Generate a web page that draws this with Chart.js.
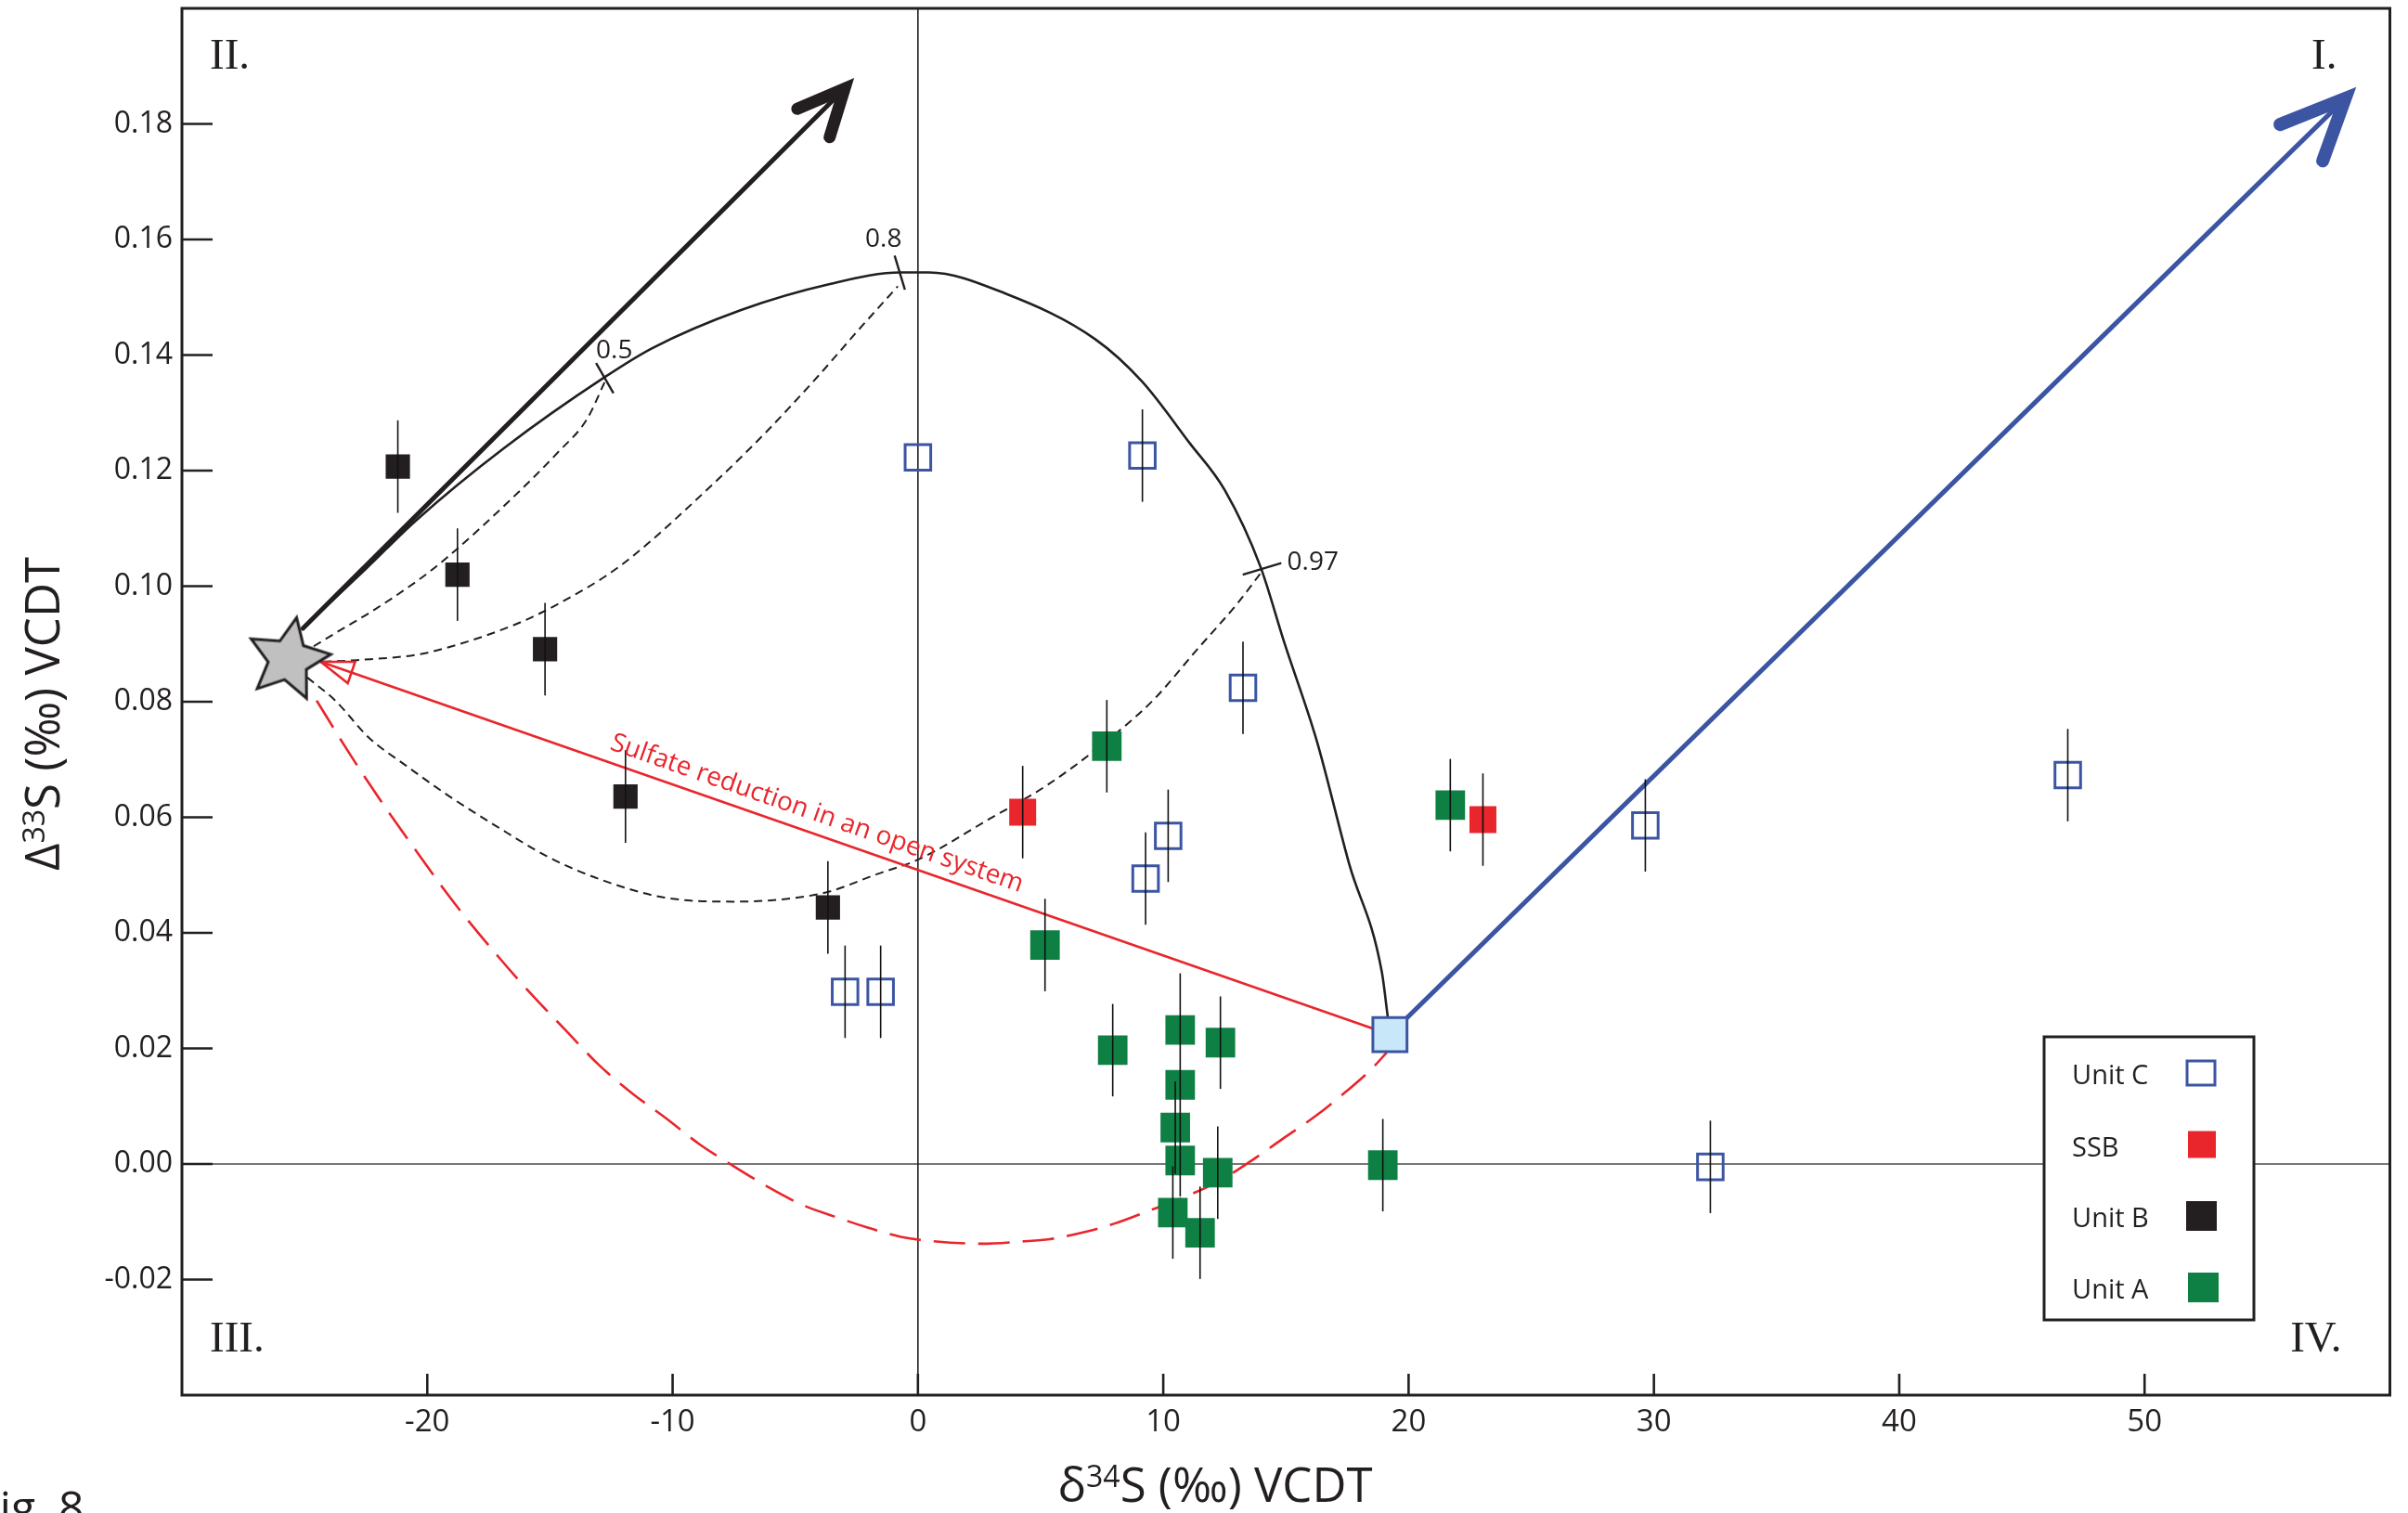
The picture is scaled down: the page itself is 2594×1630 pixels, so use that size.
<!DOCTYPE html>
<html>
<head>
<meta charset="utf-8">
<script src="https://cdn.jsdelivr.net/npm/chart.js@4.4.1/dist/chart.umd.min.js"></script>
<style>
html,body{margin:0;padding:0;background:#ffffff;overflow:hidden;}
canvas{display:block;}
</style>
</head>
<body>
<canvas id="chart" width="2594" height="1630"></canvas>
<script>
// ---------------- tick labels ----------------
const xTickValues = [-20, -10, 0, 10, 20, 30, 40, 50];
const yTickValues = [-0.02, 0.00, 0.02, 0.04, 0.06, 0.08, 0.10, 0.12, 0.14, 0.16, 0.18];

// ---------------- measured samples ----------------
const unitC_x   = [0.0, 9.15, 13.25, 10.2, 9.28, -2.97, -1.52, 29.65, 32.3, 46.87];
const unitC_y   = [0.1223, 0.1226, 0.0824, 0.0568, 0.0494, 0.0298, 0.0298, 0.0586, -0.0005, 0.0673];
const unitC_err = [0.0, 0.008, 0.008, 0.008, 0.008, 0.008, 0.008, 0.008, 0.008, 0.008];

const ssb_x   = [4.27, 23.03];
const ssb_y   = [0.0609, 0.0596];
const ssb_err = [0.008, 0.008];

const unitB_x   = [-21.2, -18.77, -15.2, -11.92, -3.67];
const unitB_y   = [0.1207, 0.1020, 0.0891, 0.0636, 0.0444];
const unitB_err = [0.008, 0.008, 0.008, 0.008, 0.008];

const unitA_x   = [7.7, 5.18, 7.94, 10.69, 12.33, 10.69, 10.49, 10.69, 12.22, 10.39, 11.5, 18.95, 21.7];
const unitA_y   = [0.0723, 0.0379, 0.0197, 0.0232, 0.0210, 0.0137, 0.0063, 0.0006, -0.0015, -0.0084, -0.0119, -0.0002, 0.0621];
const unitA_err = [0.008, 0.008, 0.008, 0.0, 0.008, 0.0193, 0.008, 0.0, 0.008, 0.008, 0.008, 0.008, 0.008];

const start_x = [-25.66];
const start_y = [0.0873];
const end_x = [19.24];
const end_y = [0.0224];

// ---------------- model curves ----------------
const solidCurve_x = [-25.07, -22.5, -20.48, -16.87, -12.76, -10.83, -7.21, -3.59, -0.70, 0.45, 3.59, 7.21, 9.14, 11.07, 12.51, 13.96, 14.93, 16.26, 17.58, 18.91, 19.15];
const solidCurve_y = [0.0927, 0.1030, 0.1113, 0.1239, 0.1362, 0.1412, 0.1478, 0.1523, 0.1543, 0.1543, 0.1506, 0.1428, 0.1354, 0.1248, 0.1166, 0.1034, 0.0903, 0.0732, 0.0519, 0.0332, 0.0255];

const dashA_x = [-24.63, -23.5, -22.24, -20.35, -19.21, -16.62, -14.69, -13.49, -12.76];
const dashA_y = [0.0896, 0.0925, 0.0957, 0.1011, 0.1049, 0.1149, 0.1231, 0.1289, 0.1354];

const dashB_x = [-24.25, -22.87, -20.35, -18.83, -16.57, -15.31, -14.04, -12.78, -11.65, -8.42, -6.25, -4.08, -2.39, -0.82];
const dashB_y = [0.0869, 0.0872, 0.0882, 0.0898, 0.0931, 0.0955, 0.0984, 0.1016, 0.1051, 0.1174, 0.1264, 0.1363, 0.1445, 0.1519];

const dashC_x = [-24.89, -23.75, -22.36, -20.85, -19.09, -17.20, -15.05, -12.85, -10.32, -7.45, -4.92, -3.57, -1.71, 0.02, 2.87, 5.28, 7.69, 9.62, 11.31, 13.0, 13.96];
const dashC_y = [0.0842, 0.0802, 0.0737, 0.0689, 0.0636, 0.0585, 0.0531, 0.0491, 0.0461, 0.0454, 0.0461, 0.0472, 0.0501, 0.0527, 0.0596, 0.0656, 0.0732, 0.0804, 0.0887, 0.0969, 0.1022];

const redDash_x = [-24.51, -23.18, -21.92, -20.54, -19.21, -18.46, -17.11, -15.72, -14.37, -13.02, -11.67, -10.23, -8.93, -7.62, -6.10, -4.75, -3.40, -2.05, -0.70, 0.45, 2.62, 4.24, 5.37, 6.76, 8.02, 9.53, 11.04, 12.30, 13.57, 14.95, 16.21, 17.47, 18.48, 19.11];
const redDash_y = [0.0802, 0.0711, 0.0630, 0.0547, 0.0469, 0.0428, 0.0359, 0.0292, 0.0232, 0.0172, 0.0123, 0.0078, 0.0035, -0.0001, -0.0040, -0.0070, -0.0091, -0.0110, -0.0126, -0.0133, -0.0138, -0.0134, -0.0130, -0.0118, -0.0103, -0.0079, -0.0054, -0.0029, 0.0005, 0.0046, 0.0083, 0.0126, 0.0164, 0.0193];

const redLine_x = [19.24, -24.34];
const redLine_y = [0.0224, 0.0869];
const redHead_x = [-24.34, -22.94, -23.24, -24.34];
const redHead_y = [0.0869, 0.0869, 0.0832, 0.0869];

const blackArrow_x = [-25.07, -2.99];
const blackArrow_y = [0.0927, 0.1861];
const blackHead_x = [-4.92, -2.99, -3.60];
const blackHead_y = [0.1826, 0.1861, 0.1777];

const blueArrow_x = [19.24, 58.18];
const blueArrow_y = [0.0224, 0.1844];
const blueHead_x = [55.52, 58.18, 57.26];
const blueHead_y = [0.1799, 0.1844, 0.1736];

const mark05_x = [-13.12, -12.41];  const mark05_y = [0.1386, 0.1334];
const mark08_x = [-0.95, -0.53];    const mark08_y = [0.1572, 0.1513];
const mark097_x = [13.24, 14.81];   const mark097_y = [0.1020, 0.1040];
const markLabels = ['0.5', '0.8', '0.97'];
const markLabel_x = [-13.12, -2.15, 15.05];
const markLabel_y = [0.1394, 0.1587, 0.1028];

const legendLabels = ['Unit C', 'SSB', 'Unit B', 'Unit A'];
const quadrantLabels = ['I.', 'II.', 'III.', 'IV.'];
const redText = 'Sulfate reduction in an open system';

// ---------------- helpers ----------------
const zip = (xs, ys) => xs.map((v, i) => ({x: v, y: ys[i]}));
const FONT = "'Open Sans', 'Noto Sans', sans-serif";
const INK = '#231f20';
const C_BLUE = '#3b55a3', C_RED = '#e8262c', C_GREEN = '#0f8044', C_BLACK = '#231f20';

function makeStar() {
  const R = 46, r = 22;
  const s = document.createElement('canvas');
  s.width = s.height = 2 * R + 10;
  const c = s.getContext('2d');
  c.translate(s.width / 2, s.height / 2);
  c.rotate(11 * Math.PI / 180);
  c.beginPath();
  for (let i = 0; i < 10; i++) {
    const rad = i % 2 ? r : R;
    const a = -Math.PI / 2 + i * Math.PI / 5;
    c.lineTo(rad * Math.cos(a), rad * Math.sin(a));
  }
  c.closePath();
  c.fillStyle = '#c0c0c0';
  c.fill();
  c.lineWidth = 3;
  c.strokeStyle = INK;
  c.stroke();
  return s;
}

function lineDS(label, xs, ys, color, width, extra) {
  return Object.assign({
    label, data: zip(xs, ys), showLine: true, borderColor: color, borderWidth: width,
    pointRadius: 0, pointHoverRadius: 0, fill: false, tension: 0, order: 10
  }, extra || {});
}

const errorGroups = [
  {xs: unitC_x, ys: unitC_y, es: unitC_err},
  {xs: ssb_x, ys: ssb_y, es: ssb_err},
  {xs: unitB_x, ys: unitB_y, es: unitB_err},
  {xs: unitA_x, ys: unitA_y, es: unitA_err}
];

function drawSupText(ctx, parts, size, supSize, raise) {
  let w = 0;
  parts.forEach(p => { ctx.font = (p.sup ? supSize : size) + 'px ' + FONT; w += ctx.measureText(p.t).width; });
  let x = -w / 2;
  parts.forEach(p => {
    ctx.font = (p.sup ? supSize : size) + 'px ' + FONT;
    ctx.fillText(p.t, x, p.sup ? -raise : 0);
    x += ctx.measureText(p.t).width;
  });
}

const overlay = {
  id: 'overlay',
  beforeDatasetsDraw(chart) {
    const {ctx, chartArea: a, scales: {x, y}} = chart;
    ctx.save();
    ctx.lineWidth = 1.6;
    ctx.strokeStyle = '#4a4a4a';
    const y0 = y.getPixelForValue(0);
    ctx.beginPath(); ctx.moveTo(a.left, y0); ctx.lineTo(a.right, y0); ctx.stroke();
    ctx.strokeStyle = INK;
    const x0 = x.getPixelForValue(0);
    ctx.beginPath(); ctx.moveTo(x0, a.top); ctx.lineTo(x0, a.bottom); ctx.stroke();
    ctx.restore();
  },
  afterDatasetsDraw(chart) {
    const {ctx, chartArea: a, scales: {x, y}} = chart;
    const X = v => x.getPixelForValue(v), Y = v => y.getPixelForValue(v);
    ctx.save();

    // error bars
    ctx.strokeStyle = '#111';
    ctx.lineWidth = 1.6;
    errorGroups.forEach(g => {
      g.xs.forEach((xv, i) => {
        const e = g.es[i];
        if (!e) return;
        ctx.beginPath();
        ctx.moveTo(X(xv), Y(g.ys[i] - e));
        ctx.lineTo(X(xv), Y(g.ys[i] + e));
        ctx.stroke();
      });
    });

    // frame
    ctx.strokeStyle = INK;
    ctx.lineWidth = 3;
    ctx.strokeRect(a.left, a.top, a.right - a.left, a.bottom - a.top);

    // inward tick marks
    ctx.lineWidth = 2.6;
    yTickValues.forEach(v => {
      ctx.beginPath(); ctx.moveTo(a.left, Y(v)); ctx.lineTo(a.left + 33, Y(v)); ctx.stroke();
    });
    xTickValues.forEach(v => {
      ctx.beginPath(); ctx.moveTo(X(v), a.bottom); ctx.lineTo(X(v), a.bottom - 23); ctx.stroke();
    });

    // fraction labels on the closed-system curve
    ctx.fillStyle = INK;
    ctx.font = '28px ' + FONT;
    ctx.textAlign = 'left';
    ctx.textBaseline = 'alphabetic';
    markLabels.forEach((t, i) => ctx.fillText(t, X(markLabel_x[i]), Y(markLabel_y[i])));

    // red annotation along the open-system line
    const p1x = X(redLine_x[0]), p1y = Y(redLine_y[0]);
    const p2x = X(redLine_x[1]), p2y = Y(redLine_y[1]);
    const ang = Math.atan2(p1y - p2y, p1x - p2x);
    ctx.save();
    ctx.translate(X(-12.59), Y(0.0718));
    ctx.rotate(ang);
    ctx.fillStyle = C_RED;
    ctx.font = '28px ' + FONT;
    ctx.textAlign = 'left';
    ctx.fillText(redText, 0, 0);
    ctx.restore();

    // quadrant labels
    ctx.fillStyle = INK;
    ctx.font = "47px 'Liberation Serif', 'DejaVu Serif', serif";
    ctx.textAlign = 'left';
    ctx.fillText(quadrantLabels[1], a.left + 30, a.top + 65);
    ctx.fillText(quadrantLabels[2], a.left + 30, a.bottom - 47);
    ctx.textAlign = 'right';
    ctx.fillText(quadrantLabels[0], a.right - 57, a.top + 65);
    ctx.fillText(quadrantLabels[3], a.right - 52, a.bottom - 47);

    // legend
    const lx = 2202, ly = 1117, lw = 226, lh = 305;
    ctx.fillStyle = '#ffffff';
    ctx.fillRect(lx, ly, lw, lh);
    ctx.strokeStyle = INK;
    ctx.lineWidth = 3;
    ctx.strokeRect(lx, ly, lw, lh);
    const rowsBase = [1168, 1246, 1322, 1399];
    const rowsMid = [1156, 1233, 1310, 1387];
    ctx.font = '29px ' + FONT;
    ctx.textAlign = 'left';
    ctx.fillStyle = INK;
    legendLabels.forEach((t, i) => ctx.fillText(t, 2232, rowsBase[i]));
    ctx.strokeStyle = C_BLUE; ctx.lineWidth = 3;
    ctx.strokeRect(2371 - 15, rowsMid[0] - 13, 30, 26);
    ctx.fillStyle = C_RED;   ctx.fillRect(2372 - 15, rowsMid[1] - 14.5, 30, 29);
    ctx.fillStyle = C_BLACK; ctx.fillRect(2371 - 16, rowsMid[2] - 16, 33, 32);
    ctx.fillStyle = C_GREEN; ctx.fillRect(2373 - 16, rowsMid[3] - 16, 33, 32);

    // axis titles
    ctx.fillStyle = INK;
    ctx.textAlign = 'left';
    ctx.textBaseline = 'alphabetic';
    ctx.save();
    ctx.translate(1309, 1618);
    drawSupText(ctx, [{t: 'δ'}, {t: '34', sup: true}, {t: 'S (‰) VCDT'}], 51, 32, 16);
    ctx.restore();
    ctx.save();
    ctx.translate(64, 769);
    ctx.rotate(-Math.PI / 2);
    drawSupText(ctx, [{t: 'Δ'}, {t: '33', sup: true}, {t: 'S (‰) VCDT'}], 51, 32, 16);
    ctx.restore();

    // figure number (cropped at the page edge)
    ctx.font = '48px ' + FONT;
    ctx.textAlign = 'left';
    ctx.fillText('Fig. 8', -25, 1641);

    ctx.restore();
  }
};

const starImg = makeStar();
const SMOOTH = {cubicInterpolationMode: 'monotone'};

const datasets = [
  {label: 'start', data: zip(start_x, start_y), pointStyle: starImg, pointRadius: 20, order: 0},
  {label: 'end', data: zip(end_x, end_y), pointStyle: 'rect', pointRadius: 26, backgroundColor: '#c8e7f8', borderColor: C_BLUE, borderWidth: 3, order: 0},
  {label: 'Unit C', data: zip(unitC_x, unitC_y), pointStyle: 'rect', pointRadius: 19.5, backgroundColor: 'rgba(255,255,255,0)', borderColor: C_BLUE, borderWidth: 3, order: 1},
  {label: 'SSB', data: zip(ssb_x, ssb_y), pointStyle: 'rect', pointRadius: 20.5, backgroundColor: C_RED, borderWidth: 0, order: 1},
  {label: 'Unit B', data: zip(unitB_x, unitB_y), pointStyle: 'rect', pointRadius: 18.5, backgroundColor: C_BLACK, borderWidth: 0, order: 1},
  {label: 'Unit A', data: zip(unitA_x, unitA_y), pointStyle: 'rect', pointRadius: 22.5, backgroundColor: C_GREEN, borderWidth: 0, order: 1},
  lineDS('black arrow', blackArrow_x, blackArrow_y, INK, 5, {order: 5, borderCapStyle: 'round'}),
  lineDS('black arrow head', blackHead_x, blackHead_y, INK, 13, {order: 5, borderCapStyle: 'round', borderJoinStyle: 'miter'}),
  lineDS('blue arrow', blueArrow_x, blueArrow_y, C_BLUE, 5, {order: 5, borderCapStyle: 'round'}),
  lineDS('blue arrow head', blueHead_x, blueHead_y, C_BLUE, 14, {order: 5, borderCapStyle: 'round', borderJoinStyle: 'miter'}),
  lineDS('open system', redLine_x, redLine_y, C_RED, 2.6, {order: 6}),
  lineDS('open system head', redHead_x, redHead_y, C_RED, 2.6, {order: 6, borderJoinStyle: 'miter'}),
  lineDS('closed system', solidCurve_x, solidCurve_y, INK, 2.6, Object.assign({order: 7}, SMOOTH)),
  lineDS('mixing a', dashA_x, dashA_y, INK, 2, Object.assign({order: 8, borderDash: [9, 6]}, SMOOTH)),
  lineDS('mixing b', dashB_x, dashB_y, INK, 2, Object.assign({order: 8, borderDash: [9, 6]}, SMOOTH)),
  lineDS('mixing c', dashC_x, dashC_y, INK, 2, Object.assign({order: 8, borderDash: [9, 6]}, SMOOTH)),
  lineDS('red dashed', redDash_x, redDash_y, C_RED, 2.6, Object.assign({order: 8, borderDash: [34, 14]}, SMOOTH)),
  lineDS('mark 0.5', mark05_x, mark05_y, INK, 2.4, {order: 7}),
  lineDS('mark 0.8', mark08_x, mark08_y, INK, 2.4, {order: 7}),
  lineDS('mark 0.97', mark097_x, mark097_y, INK, 2.4, {order: 7})
];

new Chart(document.getElementById('chart'), {
  type: 'scatter',
  data: {datasets},
  options: {
    responsive: false,
    devicePixelRatio: 1,
    animation: false,
    events: [],
    layout: {autoPadding: false, padding: {left: 0, top: 9, right: 19.5, bottom: 0}},
    plugins: {legend: {display: false}, tooltip: {enabled: false}},
    scales: {
      x: {
        type: 'linear', min: -30, max: 60,
        grid: {display: false, drawTicks: false},
        border: {display: false},
        afterBuildTicks: s => { s.ticks = xTickValues.map(v => ({value: v})); },
        afterFit: s => { s.height = 127; s.paddingLeft = 0; s.paddingRight = 0; },
        ticks: {
          autoSkip: false, maxRotation: 0, padding: 10, color: INK,
          font: {family: FONT, size: 33},
          callback: v => String(v)
        }
      },
      y: {
        type: 'linear', min: -0.04, max: 0.20,
        grid: {display: false, drawTicks: false},
        border: {display: false},
        afterBuildTicks: s => { s.ticks = yTickValues.map(v => ({value: v})); },
        afterFit: s => { s.width = 196; s.paddingTop = 0; s.paddingBottom = 0; },
        ticks: {
          autoSkip: false, padding: 10, color: INK,
          font: {family: FONT, size: 32},
          callback: v => Number(v).toFixed(2)
        }
      }
    }
  },
  plugins: [overlay]
});
</script>
</body>
</html>
